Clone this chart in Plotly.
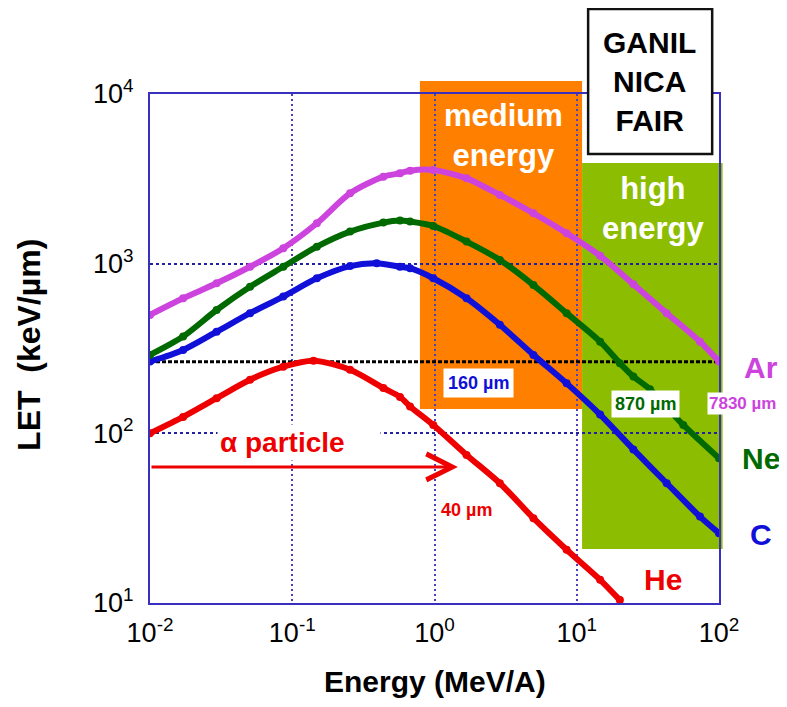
import math
import plotly.graph_objects as go

# ---------------- data ----------------
energy_he = [0.01, 0.0171, 0.0294, 0.0505, 0.0865, 0.141, 0.255, 0.437, 0.572, 0.673, 0.98,
             1.68, 2.88, 4.96, 8.49, 14.6, 20.1]
let_he = [100, 125, 161, 207, 247, 268, 237, 185, 164, 144, 112,
          74.6, 50.8, 31.6, 20.6, 13.7, 10.4]

energy_c = [0.01, 0.0171, 0.0294, 0.0505, 0.0865, 0.149, 0.255, 0.392, 0.572, 0.673, 0.98,
            1.68, 2.88, 4.96, 8.49, 14.6, 25.0, 42.9, 73.5, 100]
let_c = [265, 310, 397, 511, 640, 820, 968, 1005, 959, 940, 820,
         625, 436, 290, 197, 129, 80.4, 50.8, 32.3, 25.8]

energy_ne = [0.01, 0.0171, 0.0294, 0.0505, 0.0865, 0.149, 0.255, 0.437, 0.572, 0.673, 0.98,
             1.68, 2.88, 4.96, 8.49, 14.6, 20.1, 25.0, 32.7, 56.1, 100]
let_ne = [290, 372, 533, 731, 959, 1259, 1545, 1746, 1795, 1770, 1667,
          1349, 1052, 748, 511, 347, 259, 216, 182, 112, 71.3]

energy_ar = [0.01, 0.0171, 0.0294, 0.0505, 0.0865, 0.149, 0.255, 0.437, 0.572, 0.673, 0.98,
             1.68, 2.88, 4.96, 8.49, 14.6, 25.0, 42.9, 73.5, 100]
let_ar = [499, 625, 766, 959, 1233, 1730, 2600, 3258, 3412, 3532, 3565,
          3184, 2541, 1982, 1510, 1112, 757, 511, 347, 265]

threshold_let = 264
medium_energy_range = [0.79, 10.9]
medium_let_range = [139, 11940]
high_energy_range = [10.9, 106]
high_let_range = [20.8, 3920]
alpha_arrow_energy = [0.01, 1.46]
alpha_arrow_let = 63.4

x_tick_vals = [0.01, 0.1, 1, 10, 100]
x_tick_text = ["10<sup>-2</sup>", "10<sup>-1</sup>", "10<sup>0</sup>", "10<sup>1</sup>", "10<sup>2</sup>"]
y_tick_vals = [10, 100, 1000, 10000]
y_tick_text = ["10<sup>1</sup>", "10<sup>2</sup>", "10<sup>3</sup>", "10<sup>4</sup>"]

# ---------------- styles ----------------
RED = "#ee0000"
BLUE = "#1010d8"
GREEN = "#006a00"
MAGENTA = "#cc44dd"
ORANGE = "#ff8000"
LIME = "#8dbd00"
FRAME = "#3a30c0"
BOLD = "Liberation Sans, Arial, sans-serif"
TICKF = "Liberation Sans Narrow, Arial Narrow, Liberation Sans, Arial, sans-serif"

X_MIN, X_MAX = -2, 2
Y_MIN, Y_MAX = 1, 4


def px(v):
    return (math.log10(v) - X_MIN) / (X_MAX - X_MIN)


def py(v):
    return (math.log10(v) - Y_MIN) / (Y_MAX - Y_MIN)


fig = go.Figure()

fig.add_trace(go.Scatter(
    x=[x_tick_vals[0], x_tick_vals[-1]], y=[threshold_let, threshold_let],
    mode="lines", line=dict(color="black", width=3, dash="4px,2px"),
    hoverinfo="skip", showlegend=False))

for xs, ys, col in [(energy_he, let_he, RED), (energy_c, let_c, BLUE),
                    (energy_ne, let_ne, GREEN), (energy_ar, let_ar, MAGENTA)]:
    fig.add_trace(go.Scatter(
        x=xs, y=ys, mode="lines+markers",
        line=dict(color=col, width=6, shape="spline", smoothing=0.8),
        marker=dict(color=col, size=8),
        showlegend=False))

shapes = [
    dict(type="rect", xref="paper", yref="paper", layer="below",
         x0=px(medium_energy_range[0]), x1=px(medium_energy_range[1]),
         y0=py(medium_let_range[0]), y1=py(medium_let_range[1]),
         fillcolor=ORANGE, line=dict(width=0)),
    dict(type="rect", xref="paper", yref="paper", layer="below",
         x0=px(high_energy_range[0]), x1=px(high_energy_range[1]),
         y0=py(high_let_range[0]), y1=py(high_let_range[1]),
         fillcolor=LIME, line=dict(width=0)),
    dict(type="rect", xref="paper", yref="paper", layer="above",
         x0=0.770, x1=0.988, y0=0.882, y1=1.167,
         fillcolor="white", line=dict(color="#111111", width=2.5)),
]


def label(x, y, text, size, color, **kw):
    d = dict(x=x, y=y, xref="paper", yref="paper", text=text, showarrow=False,
             xanchor="center", yanchor="middle",
             font=dict(family=BOLD, size=size, color=color))
    d.update(kw)
    return d


annotations = [
    label(0.8787, 1.0236, "<b>GANIL<br>NICA<br>FAIR</b>", 30, "black"),
    label(0.622, 0.9175, "<b>medium<br>energy</b>", 31, "white"),
    label(0.884, 0.776, "<b>high<br>energy</b>", 31, "white"),
    label(1.0738, 0.4617, "<b>Ar</b>", 30, MAGENTA),
    label(1.0738, 0.283, "<b>Ne</b>", 30, GREEN),
    label(1.0738, 0.1336, "<b>C</b>", 30, BLUE),
    label(0.9016, 0.0452, "<b>He</b>", 30, RED),
    label(1.0413, 0.391, "<b>7830 µm</b>", 17, MAGENTA, bgcolor="white", borderpad=1),
    label(0.8717, 0.391, "<b>870 µm</b>", 18, GREEN, bgcolor="white", borderpad=3),
    label(0.5782, 0.4322, "<b>160 µm</b>", 18, BLUE, bgcolor="white", borderpad=4),
    label(0.5571, 0.1827, "<b>40 µm</b>", 18, RED),
    label(0.2619, 0.3163, "<b>α particle</b>", 28, RED, bgcolor="white", width=158,
          align="left", borderpad=2),
    # arrow
    dict(x=math.log10(alpha_arrow_energy[1]), y=math.log10(alpha_arrow_let), xref="x", yref="y",
         ax=math.log10(alpha_arrow_energy[0]), ay=math.log10(alpha_arrow_let), axref="x", ayref="y",
         text="", showarrow=True, arrowhead=5, arrowsize=1.7, arrowwidth=3,
         arrowcolor=RED, standoff=0, startstandoff=0),
    # axis titles
    label(0.501, -0.1552, "<b>Energy (MeV/A)</b>", 30, "black"),
    label(-0.2127, 0.507, "<b>LET&nbsp;&nbsp;(keV/µm)</b>", 32, "black", textangle=-90),
]

# the page body has an 8px margin: size the figure to fit inside it (no scrollbars)
# and place the plot area where the reference has it
fig.update_layout(
    width=771, height=691,
    margin=dict(l=142, r=60, t=86, b=96),
    paper_bgcolor="white", plot_bgcolor="white",
    shapes=shapes, annotations=annotations, showlegend=False,
    xaxis=dict(type="log", range=[X_MIN, X_MAX], tickvals=x_tick_vals, ticktext=x_tick_text,
               showline=True, mirror=True, linecolor=FRAME, linewidth=2,
               showgrid=True, gridcolor="#4a40c0", gridwidth=1.5, griddash="2px,3px",
               ticks="", ticklabelstandoff=5, zeroline=False,
               tickfont=dict(family=TICKF, size=27, color="black")),
    yaxis=dict(type="log", range=[Y_MIN, Y_MAX], tickvals=y_tick_vals, ticktext=y_tick_text,
               showline=True, mirror=True, linecolor=FRAME, linewidth=2,
               showgrid=True, gridcolor="#2020a0", gridwidth=1.5, griddash="3px,3px",
               ticks="", ticklabelstandoff=9, zeroline=False,
               tickfont=dict(family=TICKF, size=27, color="black")),
)

fig.write_html("out.html")
